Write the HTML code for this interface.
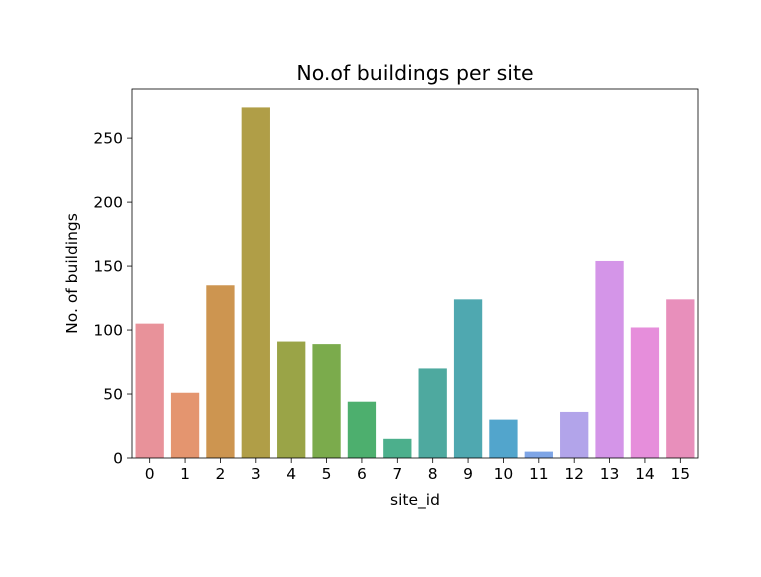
<!DOCTYPE html>
<html><head><meta charset="utf-8"><style>body{margin:0;background:#fff}svg text{font-family:"DejaVu Sans","Liberation Sans",sans-serif}</style></head>
<body>
<svg id="c" width="761" height="572" viewBox="0 0 761 572" xmlns="http://www.w3.org/2000/svg"></svg>
<script>
const categories=["0","1","2","3","4","5","6","7","8","9","10","11","12","13","14","15"];
const values=[105,51,135,274,91,89,44,15,70,124,30,5,36,154,102,124];
const yTicks=[0,50,100,150,200,250];
const colors=["#e8929a","#e4956f","#cd9550","#b09e47","#9aa447","#7bab4c","#4daf6e","#4caf8c","#4ea99f","#4fa8b0","#52a5cc","#7ea5e6","#b2a4ea","#d495e8","#e68edb","#e88fbb"];
const L=132,R=698,T=89,B=458;
const yMax=Math.max(...values)*1.0525;
const y=v=>B-(v/yMax)*(B-T);
const step=(R-L)/categories.length;
const x=i=>L+step*(i+0.5);
const svg=document.getElementById('c');
const NS="http://www.w3.org/2000/svg";
function mk(t,a,txt){const e=document.createElementNS(NS,t);for(const k in a)e.setAttribute(k,a[k]);if(txt!==undefined)e.textContent=txt;svg.appendChild(e);return e;}
values.forEach((v,i)=>{
 const r=mk('rect',{x:x(i)-step*0.4,y:y(v),width:step*0.8,height:B-y(v),fill:colors[i]});
 
 
 const tk=mk('line',{x1:x(i),x2:x(i),y1:B,y2:B+5,stroke:'#000','stroke-width':0.8});
 
 
 const tl=mk('text',{x:x(i),y:B+21,'font-size':15.5,'text-anchor':'middle'},categories[i]);
 
 
});
yTicks.forEach(t=>{
 const tk=mk('line',{x1:L-5,x2:L,y1:y(t),y2:y(t),stroke:'#000','stroke-width':0.8});
 
 
 const tl=mk('text',{x:L-9,y:y(t)+5.5,'font-size':15.5,'text-anchor':'end'},t);
 
 
});
const f=mk('rect',{x:L,y:T,width:R-L,height:B-T,fill:'none',stroke:'#000','stroke-width':0.8});


const ti=mk('text',{x:(L+R)/2,y:80,'font-size':20.5,'text-anchor':'middle'},'No.of buildings per site');


const xt=mk('text',{x:(L+R)/2,y:505,'font-size':15.5,'text-anchor':'middle'},'site_id');


const yt=mk('text',{x:77,y:(T+B)/2,'font-size':15.5,'text-anchor':'middle',transform:'rotate(-90 77 '+((T+B)/2)+')'},'No. of buildings');


</script>
</body></html>
